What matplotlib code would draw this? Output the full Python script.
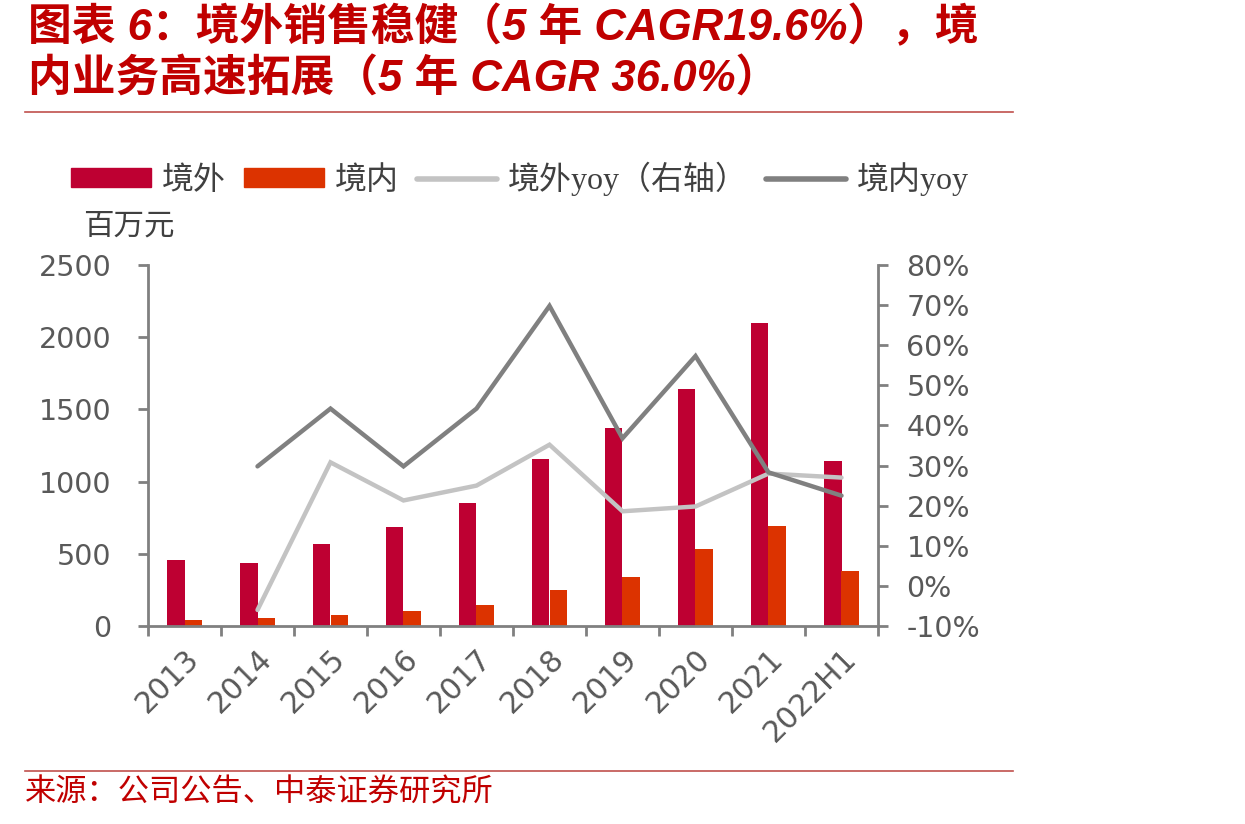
import matplotlib
matplotlib.use("Agg")
import matplotlib.pyplot as plt
from matplotlib.lines import Line2D
import matplotlib.transforms as mtransforms
import numpy as np

plt.rcParams['font.family'] = ['DejaVu Sans', 'Noto Sans CJK SC']

categories = ['2013', '2014', '2015', '2016', '2017', '2018', '2019', '2020', '2021', '2022H1']
overseas = [460, 435, 565, 685, 855, 1155, 1370, 1640, 2095, 1140]
domestic = [40, 52, 78, 105, 148, 250, 342, 535, 690, 382]
overseas_yoy = [None, -6.0, 30.8, 21.3, 25.0, 35.2, 18.6, 19.8, 28.0, 27.0]
domestic_yoy = [None, 29.8, 44.2, 29.8, 44.2, 69.8, 36.8, 57.3, 28.3, 22.5]

C_OUT = '#BE0032'
C_IN = '#DC3300'
C_LY = '#C3C3C3'
C_DY = '#808080'
AX_C = '#808080'
TXT = '#595959'
RED = '#C00000'

fig = plt.figure(figsize=(12.45, 8.24), dpi=100)
ax = fig.add_axes([148/1245, 1-626/824, 730/1245, 361/824])
ax2 = ax.twinx()

x = np.arange(len(categories))
w = 0.24
ax.bar(x - w/2, overseas, w, color=C_OUT, zorder=2)
ax.bar(x + w/2, domestic, w, color=C_IN, zorder=2)

oy = np.array([np.nan if v is None else v for v in overseas_yoy], dtype=float) / 100
dy = np.array([np.nan if v is None else v for v in domestic_yoy], dtype=float) / 100
ax2.plot(x, oy, color=C_LY, lw=3.2, solid_joinstyle='miter', solid_capstyle='round')
ax2.plot(x, dy, color=C_DY, lw=3.2, solid_joinstyle='miter', solid_capstyle='round')

ax.set_xlim(-0.5, len(categories) - 0.5)
ax.set_ylim(0, 2500)
ax.set_yticks(np.arange(0, 2501, 500))
ax2.set_ylim(-0.1, 0.8)
ax2.set_yticks(np.arange(-0.1, 0.801, 0.1))
ax2.set_yticklabels([f'{int(round(v*100))}%' for v in np.arange(-0.1, 0.801, 0.1)])

ax.set_xticks(x)
ax.set_xticklabels(categories, rotation=45, ha='right', va='top', rotation_mode='anchor')
ax.set_xticks(np.arange(-0.5, len(categories), 1), minor=True)
ax.tick_params(axis='x', which='major', length=0, pad=13, labelsize=21.5, labelcolor=TXT)
ax.tick_params(axis='x', which='minor', length=7, width=2, color=AX_C, direction='out')
ax.tick_params(axis='y', length=7.5, width=2, color=AX_C, labelsize=20.5, labelcolor=TXT, pad=19)
ax2.tick_params(axis='y', length=7.5, width=2, color=AX_C, labelsize=20.5, labelcolor=TXT, pad=13)

for a in (ax, ax2):
    for s in a.spines.values():
        s.set_visible(False)
ax.spines['left'].set_visible(True)
ax.spines['bottom'].set_visible(True)
ax2.spines['right'].set_visible(True)
for s in (ax.spines['left'], ax.spines['bottom'], ax2.spines['right']):
    s.set_color(AX_C)
    s.set_linewidth(2)

offset = mtransforms.ScaledTranslation(0/100, 0, fig.dpi_scale_trans)
for lbl in ax.get_xticklabels():
    lbl.set_transform(lbl.get_transform() + offset)

# legend
handles = [
    plt.Rectangle((0, 0), 1, 1, color=C_OUT),
    plt.Rectangle((0, 0), 1, 1, color=C_IN),
    Line2D([0], [0], color=C_LY, lw=4, solid_capstyle='round'),
    Line2D([0], [0], color=C_DY, lw=4, solid_capstyle='round'),
]
labels = ['境外', '境内', '境外yoy（右轴）', '境内yoy']
leg = fig.legend(handles, labels, loc='center left', bbox_to_anchor=(71/1245, 1-179/824),
                 ncol=4, frameon=False, handlelength=2.5, handleheight=0.54, handletextpad=0.36,
                 columnspacing=0.55, borderaxespad=0, borderpad=0,
                 prop={'family': ['Liberation Serif', 'Noto Sans CJK SC'], 'size': 23})
for t in leg.get_texts():
    t.set_color('#404040')

fig.text(83/1245, 1-226/824, '百万元', fontsize=22, color='#404040', va='center', ha='left',
         family=['Noto Sans CJK SC'])

# title
fig.text(28/1245, 1-28/824, '图表 6：境外销售稳健（5 年 CAGR19.6%），境', fontsize=31.5,
         color=RED, fontweight='bold', va='center', ha='left',
         family=['Liberation Sans', 'Noto Sans CJK SC'], style='italic')
fig.text(28/1245, 1-80/824, '内业务高速拓展（5 年 CAGR 36.0%）', fontsize=31.5,
         color=RED, fontweight='bold', va='center', ha='left',
         family=['Liberation Sans', 'Noto Sans CJK SC'], style='italic')

fig.add_artist(Line2D([25/1245, 1013/1245], [1-112/824, 1-112/824], color='#C0504D', lw=1.2))
fig.add_artist(Line2D([25/1245, 1013/1245], [1-771/824, 1-771/824], color='#C0504D', lw=1.2))

fig.text(25/1245, 1-793/824, '来源：公司公告、中泰证券研究所', fontsize=22.5, color=RED,
         va='center', ha='left', family=['Noto Sans CJK SC'])

fig.savefig('out.png', dpi=100)
